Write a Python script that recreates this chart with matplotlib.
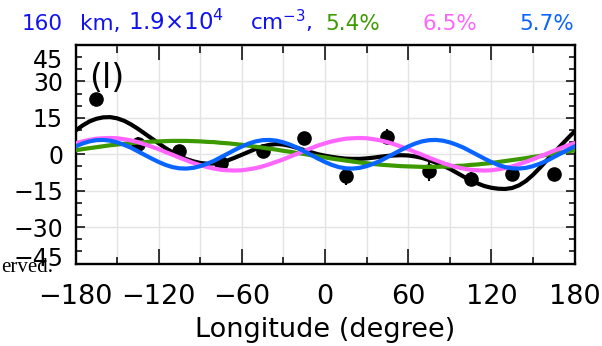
import matplotlib
matplotlib.use('Agg')
import matplotlib.pyplot as plt
from matplotlib.ticker import MultipleLocator
from matplotlib.transforms import ScaledTranslation

plt.rcParams['font.family'] = ['DejaVu Sans']
plt.rcParams['mathtext.default'] = 'regular'

# Observed points (longitude, percent perturbation, error)
obs_lon = [-165, -135, -105, -75, -45, -15, 15, 45, 75, 105, 135, 165]
obs_val = [22.9, 4.2, 1.4, -3.5, 1.4, 6.5, -9.0, 7.2, -6.9, -10.3, -8.0, -8.3]
obs_err = [1.0, 3.0, 1.0, 1.5, 2.0, 1.5, 3.5, 3.0, 4.3, 2.8, 1.5, 2.8]

# Fitted curves, read every 5 degrees from -180 to 180
curve_lon = list(range(-180, 181, 5))
fit_total = [9.7, 11.8, 13.5, 14.6, 15.2, 15.3, 14.8, 13.8, 12.3, 10.5,
             8.5, 6.5, 4.5, 2.5, 0.8, -0.7, -2.0, -2.9, -3.6, -3.9,
             -3.8, -3.3, -2.5, -1.4, -0.2, 1.0, 2.2, 3.2, 3.9, 4.2,
             4.0, 3.4, 2.6, 1.7, 0.8, 0.0, -0.6, -1.1, -1.5, -1.8,
             -1.9, -1.9, -1.7, -1.4, -1.0, -0.7, -0.5, -0.4, -0.5, -0.9,
             -1.5, -2.4, -3.5, -4.7, -6.0, -7.6, -9.2, -10.7, -12.0, -13.1,
             -13.8, -14.2, -14.3, -13.9, -12.8, -11.0, -8.5, -5.6, -2.5, 0.5,
             3.5, 6.5, 9.4]
fit_wave1 = [1.6, 2.1, 2.5, 2.9, 3.3, 3.7, 4.0, 4.3, 4.6, 4.8,
             5.0, 5.2, 5.3, 5.4, 5.5, 5.5, 5.5, 5.4, 5.3, 5.1,
             5.0, 4.7, 4.5, 4.2, 3.9, 3.5, 3.1, 2.7, 2.3, 1.9,
             1.4, 1.0, 0.5, 0.1, -0.4, -0.9, -1.3, -1.8, -2.2, -2.6,
             -3.0, -3.4, -3.7, -4.0, -4.3, -4.5, -4.7, -4.9, -5.0, -5.1,
             -5.2, -5.2, -5.2, -5.1, -5.0, -4.8, -4.7, -4.4, -4.2, -3.9,
             -3.6, -3.2, -2.8, -2.4, -2.0, -1.6, -1.1, -0.7, -0.2, 0.2,
             0.7, 1.2, 1.6]
fit_wave2 = [4.5, 5.3, 5.9, 6.4, 6.6, 6.7, 6.6, 6.2, 5.7, 5.0,
             4.1, 3.1, 2.1, 0.9, -0.2, -1.4, -2.5, -3.6, -4.5, -5.3,
             -5.9, -6.4, -6.6, -6.7, -6.6, -6.2, -5.7, -5.0, -4.1, -3.1,
             -2.1, -0.9, 0.2, 1.4, 2.5, 3.6, 4.5, 5.3, 5.9, 6.4,
             6.6, 6.7, 6.6, 6.2, 5.7, 5.0, 4.1, 3.1, 2.1, 0.9,
             -0.2, -1.4, -2.5, -3.6, -4.5, -5.3, -5.9, -6.4, -6.6, -6.7,
             -6.6, -6.2, -5.7, -5.0, -4.1, -3.1, -2.1, -0.9, 0.2, 1.4,
             2.5, 3.6, 4.5]
fit_wave3 = [3.2, 4.4, 5.3, 5.8, 5.9, 5.6, 4.9, 3.9, 2.7, 1.2,
             -0.3, -1.8, -3.2, -4.4, -5.3, -5.8, -5.9, -5.6, -4.9, -3.9,
             -2.7, -1.2, 0.3, 1.8, 3.2, 4.4, 5.3, 5.8, 5.9, 5.6,
             4.9, 3.9, 2.7, 1.2, -0.3, -1.8, -3.2, -4.4, -5.3, -5.8,
             -5.9, -5.6, -4.9, -3.9, -2.7, -1.2, 0.3, 1.8, 3.2, 4.4,
             5.3, 5.8, 5.9, 5.6, 4.9, 3.9, 2.7, 1.2, -0.3, -1.8,
             -3.2, -4.4, -5.3, -5.8, -5.9, -5.6, -4.9, -3.9, -2.7, -1.2,
             0.3, 1.8, 3.2]

x_ticks = [-180, -120, -60, 0, 60, 120, 180]
x_labels = ['\u2212180', '\u2212120', '\u221260', '0', '60', '120', '180']
y_ticks = [-45, -30, -15, 0, 15, 30, 45]
y_labels = ['\u221245', '\u221230', '\u221215', '0', '15', '30', '45']

fig = plt.figure(figsize=(6.02, 3.46), dpi=100)
ax = fig.add_axes([75.5 / 602, 1 - 263.5 / 346, 499 / 602, 218.5 / 346])

ax.errorbar(obs_lon, obs_val, yerr=obs_err, fmt='o', color='black',
            markersize=9.5, elinewidth=1.5, capsize=0, zorder=3)
ax.plot(curve_lon, fit_total, color='black', lw=3, zorder=4)
ax.plot(curve_lon, fit_wave1, color='#3c9a00', lw=3, zorder=4)
ax.plot(curve_lon, fit_wave2, color='#ff66ff', lw=3, zorder=4)
ax.plot(curve_lon, fit_wave3, color='#0a64ff', lw=3, zorder=4)

ax.set_xlim(-180, 180)
ax.set_ylim(-45, 45)
ax.set_xticks(x_ticks, x_labels)
ax.set_yticks(y_ticks, y_labels)
ax.xaxis.set_minor_locator(MultipleLocator(30))
ax.yaxis.set_minor_locator(MultipleLocator(5))
ax.grid(True, which='major', color='#e4e4e4', lw=1)
ax.grid(True, which='minor', axis='x', color='#e4e4e4', lw=1)
ax.set_axisbelow(True)
ax.tick_params(which='both', direction='in', top=True, right=True,
               width=1.1, color='black')
ax.tick_params(axis='x', which='major', length=10.8, labelsize=19.5, pad=14.5)
ax.tick_params(axis='x', which='minor', length=5.4)
ax.tick_params(axis='y', which='major', length=6.5, labelsize=17, pad=9)
ax.tick_params(axis='y', which='minor', length=4)
for sp in ax.spines.values():
    sp.set_linewidth(1.7)

# end labels sit inside the axis range, as in the original
ylabs = ax.get_yticklabels()
ylabs[-1].set_transform(ylabs[-1].get_transform()
                        + ScaledTranslation(0, -0.13, fig.dpi_scale_trans))
ylabs[0].set_transform(ylabs[0].get_transform()
                       + ScaledTranslation(0, 0.07, fig.dpi_scale_trans))

ax.set_xlabel('Longitude (degree)', fontsize=19.5, labelpad=5.5)
ax.text(-157.5, 31, '(l)', fontsize=24, ha='center', va='center')

ty = 1 - 30 / 346
blue = '#1212f0'
fig.text(21.5 / 602, ty, '160', color=blue, fontsize=15.5, va='baseline')
fig.text(80 / 602, ty, 'km,', color=blue, fontsize=15.5, va='baseline')
fig.text(128 / 602, ty, '1.9\u00d710$^4$', color=blue, fontsize=16.5, va='baseline')
fig.text(250 / 602, ty, 'cm$^{-3}$,', color=blue, fontsize=15.5, va='baseline')
fig.text(325 / 602, ty, '5.4%', color='#3c9a00', fontsize=15.5, va='baseline')
fig.text(423 / 602, ty, '6.5%', color='#ff66ff', fontsize=15.5, va='baseline')
fig.text(519 / 602, ty, '5.7%', color='#0a64ff', fontsize=15.5, va='baseline')

fig.text(1 / 602, 1 - 272 / 346, 'erved.', family='Liberation Serif',
         fontsize=15, va='baseline')

fig.savefig('out.png', dpi=100)
